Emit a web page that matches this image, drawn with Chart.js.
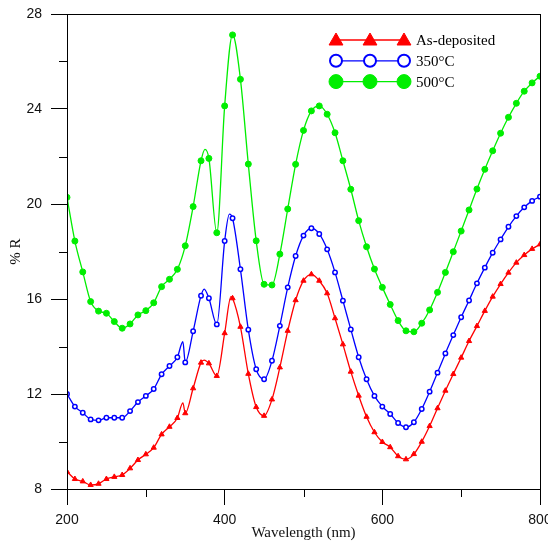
<!DOCTYPE html>
<html>
<head>
<meta charset="utf-8">
<script src="https://cdn.jsdelivr.net/npm/chart.js@4.4.1/dist/chart.umd.min.js"></script>
<style>
  html, body { margin: 0; padding: 0; background: #fff; }
</style>
</head>
<body>
<canvas id="reflectance" width="548" height="547"></canvas>
<script>
// reflectance spectra, sampled every 10 nm (one marker per sample)
const wavelength = [200, 210, 220, 230, 240, 250, 260, 270, 280, 290, 300, 310, 320, 330, 340, 350, 360, 370, 380, 390,
  400, 410, 420, 430, 440, 450, 460, 470, 480, 490, 500, 510, 520, 530, 540, 550, 560, 570, 580, 590,
  600, 610, 620, 630, 640, 650, 660, 670, 680, 690, 700, 710, 720, 730, 740, 750, 760, 770, 780, 790, 800];

const asDeposited = [8.73, 8.42, 8.32, 8.17, 8.22, 8.42, 8.51, 8.59, 8.87, 9.22, 9.46, 9.74, 10.30, 10.62, 10.99, 11.19, 12.24, 13.32, 13.29, 12.76,
  14.56, 16.03, 14.83, 12.85, 11.45, 11.08, 11.77, 13.12, 14.66, 15.95, 16.77, 17.04, 16.77, 16.24, 15.19, 14.09, 12.94, 11.93, 11.04, 10.39,
  9.98, 9.76, 9.38, 9.25, 9.47, 9.99, 10.65, 11.40, 12.14, 12.84, 13.53, 14.23, 14.86, 15.50, 16.10, 16.63, 17.11, 17.53, 17.85, 18.11, 18.30];

const annealed350 = [12.00, 11.47, 11.21, 10.93, 10.89, 11.00, 11.00, 11.00, 11.28, 11.66, 11.92, 12.21, 12.83, 13.18, 13.55, 13.33, 14.64, 16.14, 16.03, 14.93,
  18.44, 19.40, 17.25, 14.71, 13.04, 12.62, 13.40, 14.87, 16.49, 17.81, 18.67, 18.98, 18.74, 18.09, 17.12, 15.93, 14.72, 13.55, 12.62, 11.92,
  11.47, 11.16, 10.78, 10.60, 10.81, 11.37, 12.10, 12.90, 13.71, 14.48, 15.23, 15.94, 16.66, 17.32, 17.95, 18.51, 19.04, 19.49, 19.86, 20.13, 20.31];

const annealed500 = [20.28, 18.44, 17.14, 15.89, 15.49, 15.40, 15.05, 14.77, 14.95, 15.33, 15.51, 15.84, 16.52, 16.83, 17.25, 18.24, 19.89, 21.82, 21.92, 18.79,
  24.13, 27.12, 25.25, 21.68, 18.45, 16.62, 16.59, 17.89, 19.79, 21.67, 23.10, 23.92, 24.13, 23.78, 23.00, 21.82, 20.62, 19.30, 18.20, 17.26,
  16.49, 15.77, 15.09, 14.66, 14.62, 14.98, 15.54, 16.28, 17.12, 17.99, 18.86, 19.75, 20.63, 21.46, 22.24, 22.98, 23.65, 24.24, 24.75, 25.10, 25.38];

// turning points of the measured trace that fall between the marked samples
const asDepositedExtra = [[347, 11.63], [374, 13.43], [408, 16.10]];
const annealed350Extra = [[347, 14.20], [374, 16.42], [406, 19.57]];
const annealed500Extra = [[375, 22.30]];

const seriesNames = ['As-deposited', '350°C', '500°C'];

const xMajor = [200, 400, 600, 800];
const xMinor = [300, 500, 700];
const yMajor = [8, 12, 16, 20, 24, 28];
const yMinor = [10, 14, 18, 22, 26];

function buildSeries(values, extra) {
  const pts = wavelength.map((w, i) => ({ x: w, y: values[i], marker: true }));
  extra.forEach(([w, v]) => pts.push({ x: w, y: v, marker: false }));
  return pts.sort((a, b) => a.x - b.x);
}

function markerRadius(r) {
  return ctx => (ctx.raw && ctx.raw.marker ? r : 0);
}

const datasets = [
  {
    label: seriesNames[0],
    data: buildSeries(asDeposited, asDepositedExtra),
    borderColor: '#ff0000',
    backgroundColor: '#ff0000',
    pointStyle: 'triangle',
    pointRadius: markerRadius(3),
    pointBorderWidth: 1,
    legendRadius: 8,
    legendBorder: 1
  },
  {
    label: seriesNames[1],
    data: buildSeries(annealed350, annealed350Extra),
    borderColor: '#0000ff',
    backgroundColor: '#ffffff',
    pointStyle: 'circle',
    pointRadius: markerRadius(2.2),
    pointBorderWidth: 1.5,
    legendRadius: 6,
    legendBorder: 2
  },
  {
    label: seriesNames[2],
    data: buildSeries(annealed500, annealed500Extra),
    borderColor: '#00ee00',
    backgroundColor: '#00ee00',
    pointStyle: 'circle',
    pointRadius: markerRadius(3),
    pointBorderWidth: 1,
    legendRadius: 7,
    legendBorder: 1
  }
];

datasets.forEach(d => {
  d.borderWidth = 1.3;
  d.cubicInterpolationMode = 'monotone';
  d.pointBackgroundColor = d.backgroundColor;
  d.pointBorderColor = d.borderColor;
  d.fill = false;
});

// box round the plot, short minor ticks and the line-and-marker legend
const frameAndLegend = {
  id: 'frameAndLegend',
  afterDatasetsDraw(chart) {
    const { ctx, chartArea: a, scales: { x, y } } = chart;
    ctx.save();
    ctx.strokeStyle = '#000';
    ctx.lineWidth = 1;
    ctx.strokeRect(a.left + 0.5, a.top + 0.5, a.right - a.left, a.bottom - a.top);
    ctx.beginPath();
    xMinor.forEach(v => {
      const px = Math.round(x.getPixelForValue(v)) + 0.5;
      ctx.moveTo(px, a.bottom);
      ctx.lineTo(px, a.bottom + 8);
    });
    yMinor.forEach(v => {
      const py = Math.round(y.getPixelForValue(v)) + 0.5;
      ctx.moveTo(a.left, py);
      ctx.lineTo(a.left - 8, py);
    });
    ctx.stroke();

    const xs = [336, 370, 404];
    chart.data.datasets.forEach((d, i) => {
      const ly = 40 + i * 20.8;
      ctx.strokeStyle = d.borderColor;
      ctx.lineWidth = 1.3;
      ctx.beginPath();
      ctx.moveTo(xs[0], ly);
      ctx.lineTo(xs[2], ly);
      ctx.stroke();
      ctx.fillStyle = d.backgroundColor;
      ctx.lineWidth = d.legendBorder;
      xs.forEach(px => {
        Chart.helpers.drawPoint(ctx, {
          pointStyle: d.pointStyle,
          radius: d.legendRadius,
          rotation: 0,
          borderWidth: d.legendBorder
        }, px, ly + (d.pointStyle === 'triangle' ? 1 : 0));
      });
      ctx.fillStyle = '#000';
      ctx.font = '15px "Liberation Serif"';
      ctx.textBaseline = 'middle';
      ctx.textAlign = 'left';
      ctx.fillText(d.label, 416, ly + 1);
    });
    ctx.restore();
  }
};

new Chart(document.getElementById('reflectance'), {
  type: 'line',
  data: { datasets },
  plugins: [frameAndLegend],
  options: {
    responsive: false,
    animation: false,
    events: [],
    layout: { padding: { top: 14, right: 8, bottom: 0, left: 0 } },
    plugins: {
      legend: { display: false },
      tooltip: { enabled: false }
    },
    scales: {
      x: {
        type: 'linear',
        min: 200,
        max: 800,
        afterBuildTicks: s => { s.ticks = xMajor.map(v => ({ value: v })); },
        ticks: {
          font: { family: 'Liberation Sans', size: 14 },
          color: '#111',
          padding: 7,
          maxRotation: 0
        },
        grid: { drawOnChartArea: false, tickLength: 16, color: '#000' },
        border: { display: false },
        title: {
          display: true,
          text: 'Wavelength (nm)',
          font: { family: 'Liberation Serif', size: 15 },
          color: '#111',
          padding: { top: 0, bottom: 5 }
        },
        afterFit: s => { s.height = 58; s.paddingLeft = 0; s.paddingRight = 0; }
      },
      y: {
        type: 'linear',
        min: 8,
        max: 28,
        afterBuildTicks: s => { s.ticks = yMajor.map(v => ({ value: v })); },
        ticks: {
          font: { family: 'Liberation Sans', size: 14 },
          color: '#111',
          padding: 9
        },
        grid: { drawOnChartArea: false, tickLength: 16, color: '#000' },
        border: { display: false },
        title: {
          display: true,
          text: '% R',
          font: { family: 'Liberation Serif', size: 15 },
          color: '#111',
          padding: { top: 7, bottom: 0 }
        },
        afterFit: s => { s.width = 67; s.paddingTop = 0; s.paddingBottom = 0; }
      }
    }
  }
});
</script>
</body>
</html>
